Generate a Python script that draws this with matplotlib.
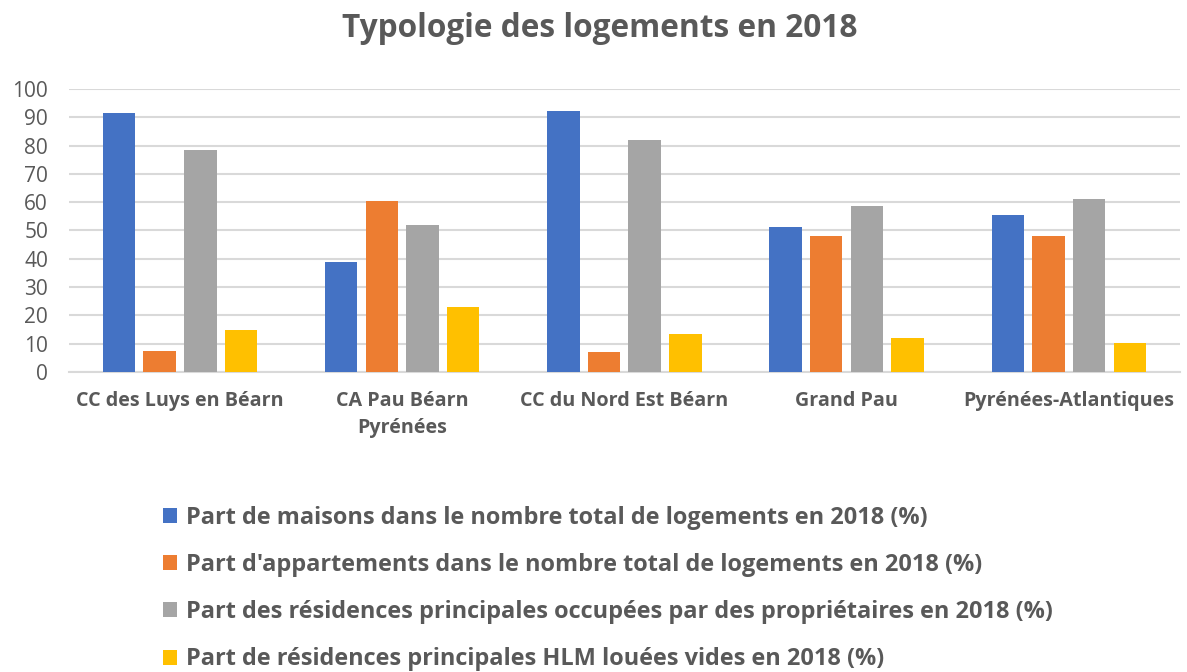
import matplotlib
matplotlib.use("Agg")
import matplotlib.pyplot as plt
import numpy as np

plt.rcParams['font.family'] = ['Open Sans', 'DejaVu Sans']

categories = ["CC des Luys en Béarn", "CA Pau Béarn\nPyrénées", "CC du Nord Est Béarn",
              "Grand Pau", "Pyrénées-Atlantiques"]
series_names = [
    "Part de maisons dans le nombre total de logements en 2018 (%)",
    "Part d'appartements dans le nombre total de logements en 2018 (%)",
    "Part des résidences principales occupées par des propriétaires en 2018 (%)",
    "Part de résidences principales HLM louées vides en 2018 (%)",
]
maisons = [91.4, 38.8, 92.2, 51.2, 55.4]
appartements = [7.5, 60.3, 7.2, 48.2, 48.2]
proprietaires = [78.4, 52.1, 82.0, 58.8, 61.3]
hlm = [14.9, 22.8, 13.4, 11.9, 10.1]
series = [maisons, appartements, proprietaires, hlm]
colors = ["#4472C4", "#ED7D31", "#A5A5A5", "#FFC000"]
text_color = "#595959"

fig = plt.figure(figsize=(11.87, 6.72), dpi=100)
ax = fig.add_axes([0.058, 0.4464, 0.936, 0.4212])

x = np.arange(len(categories))
width = 0.146
step = 0.183
offsets = (np.arange(4) - 1.5) * step
bars = []
for s, vals, c, off in zip(series_names, series, colors, offsets):
    b = ax.bar(x + off, vals, width, color=c, label=s, zorder=3)
    bars.append(b)

ax.set_xlim(-0.5, len(categories) - 0.5)
ax.set_ylim(0, 100)
ax.set_yticks(range(0, 101, 10))
ax.yaxis.grid(True, color="#D9D9D9", linewidth=1.5, zorder=0)
for sp in ["top", "right", "left"]:
    ax.spines[sp].set_visible(False)
ax.spines["bottom"].set_color("#D9D9D9")
ax.spines["bottom"].set_linewidth(1.5)
ax.tick_params(axis="both", length=0, colors=text_color)
ax.tick_params(axis="y", labelsize=15, pad=15)
ax.set_xticks(x)
ax.set_xticklabels(categories, fontsize=14.2, fontweight="bold", color=text_color,
                   linespacing=1.45)
ax.tick_params(axis="x", pad=14)

fig.text(0.505, 0.958, "Typologie des logements en 2018", ha="center", va="center",
         fontsize=22.8, fontweight="bold", color=text_color)

leg = fig.legend(handles=bars, labels=series_names, loc="upper left",
                 bbox_to_anchor=(0.137, 0.2475), frameon=False, ncol=1,
                 borderpad=0, borderaxespad=0,
                 handlelength=0.6, handleheight=0.6, handletextpad=0.38,
                 labelspacing=0.99, prop={"size": 16.9, "weight": "bold"})
for t in leg.get_texts():
    t.set_color(text_color)

fig.savefig("out.png", dpi=100)
